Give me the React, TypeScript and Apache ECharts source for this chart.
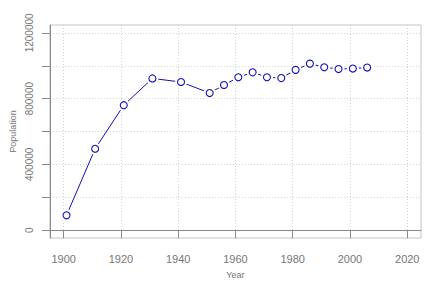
import React, { useEffect, useRef } from "react";
import * as echarts from "echarts";

const years = [1901, 1911, 1921, 1931, 1941, 1951, 1956, 1961, 1966, 1971, 1976, 1981, 1986, 1991, 1996, 2001, 2006];
const population = [90000, 495000, 760000, 923000, 901000, 834000, 883000, 930000, 960000, 930000, 925000, 975000, 1013000, 991000, 980000, 983000, 989000];
const xTicks = [1900, 1920, 1940, 1960, 1980, 2000, 2020];
const yTicks = [0, 200000, 400000, 600000, 800000, 1000000, 1200000];
const yLabels = [0, 400000, 800000, 1200000];

const FONT = "Liberation Sans, Arial, sans-serif";
const LABEL = "#767676";
const AXIS = "#8a8a8a";

export default function App() {
  const ref = useRef<HTMLDivElement>(null);
  useEffect(() => {
    if (!ref.current) return;
    const chart = echarts.init(ref.current, null, { renderer: "svg" });
    const data = years.map((y, i) => [y, population[i]]);
    chart.setOption({
      animation: false,
      backgroundColor: "#ffffff",
      textStyle: { color: LABEL, fontFamily: FONT },
      grid: {
        left: 49,
        top: 25,
        right: 10,
        bottom: 51,
        show: true,
        borderColor: "#c4c4c4",
        borderWidth: 1,
        backgroundColor: "transparent",
      },
      xAxis: {
        type: "value",
        min: 1895.2,
        max: 2024.8,
        name: "Year",
        nameLocation: "middle",
        nameGap: 32,
        nameTextStyle: { color: LABEL, fontFamily: FONT, fontSize: 9 },
        axisLine: { show: true, lineStyle: { color: AXIS, width: 1 } },
        axisTick: { show: true, length: 8, customValues: xTicks, lineStyle: { color: AXIS } },
        axisLabel: {
          customValues: xTicks,
          color: LABEL,
          fontFamily: FONT,
          fontSize: 11,
          margin: 15,
          formatter: (v: number) => String(v),
        },
        splitLine: { show: true, lineStyle: { color: "#d2d2d2", type: [1, 2], width: 1 } },
      },
      yAxis: {
        type: "value",
        min: -48000,
        max: 1248000,
        name: "Population",
        nameLocation: "middle",
        nameGap: 31,
        nameTextStyle: { color: LABEL, fontFamily: FONT, fontSize: 9 },
        axisLine: { show: true, lineStyle: { color: AXIS, width: 1 } },
        axisTick: { show: true, length: 8, customValues: yTicks, lineStyle: { color: AXIS } },
        axisLabel: {
          customValues: yLabels,
          rotate: 90,
          color: LABEL,
          fontFamily: FONT,
          fontSize: 10,
          margin: 15,
          formatter: (v: number) => String(v),
        },
        splitLine: { show: true, lineStyle: { color: "#d2d2d2", type: [1, 2], width: 1 } },
      },
      series: [
        {
          type: "line",
          data,
          symbol: "circle",
          symbolSize: 12,
          showSymbol: true,
          itemStyle: { color: "#ffffff", borderWidth: 0 },
          lineStyle: { color: "#1010b8", width: 1 },
          silent: true,
          z: 2,
        },
        {
          type: "scatter",
          data,
          symbol: "circle",
          symbolSize: 7,
          itemStyle: { color: "#ffffff", borderColor: "#1010c4", borderWidth: 1.1, opacity: 1 },
          silent: true,
          z: 3,
        },
      ],
    });
    return () => chart.dispose();
  }, []);
  return (
    <div
      ref={ref}
      style={{ position: "absolute", left: 0, top: 0, width: 431, height: 289 }}
    />
  );
}
